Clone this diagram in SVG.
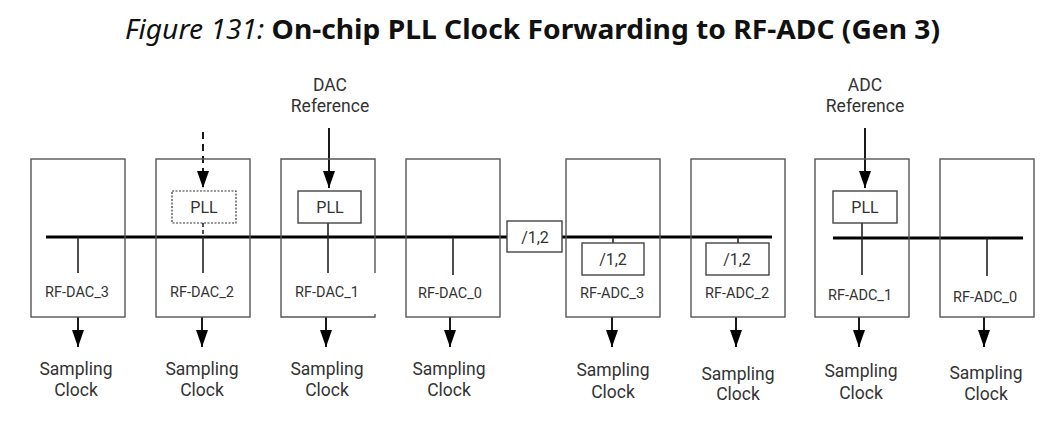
<svg xmlns="http://www.w3.org/2000/svg" width="1061" height="426" viewBox="0 0 1061 426">
<defs>
<style>
.box{fill:none;stroke:#555;stroke-width:1.4}
.sbox{fill:#fff;stroke:#444;stroke-width:1.4}
.bus{stroke:#000;stroke-width:3;fill:none}
.tap{stroke:#222;stroke-width:1.6;fill:none}
.arr{stroke:#000;stroke-width:1.8}
.lbl{font-family:Roboto,"Liberation Sans",sans-serif;font-size:14.5px;fill:#333;text-anchor:middle}
.big{font-family:Roboto,"Liberation Sans",sans-serif;font-size:17.5px;fill:#333;text-anchor:middle}
.blk{font-family:Roboto,"Liberation Sans",sans-serif;font-size:16px;fill:#333;text-anchor:middle}
.title{font-family:"Noto Sans","Open Sans",sans-serif;font-size:27px;fill:#111}
</style>
<marker id="ah2" viewBox="0 0 17 12" refX="17" refY="6" markerWidth="17" markerHeight="12" markerUnits="userSpaceOnUse" orient="auto">
<path d="M0,0 L17,6 L0,12 Z" fill="#000"/>
</marker>
</defs>
<rect width="1061" height="426" fill="#fff"/>
<text class="title" x="125" y="39" textLength="815" lengthAdjust="spacingAndGlyphs"><tspan font-style="italic" font-weight="normal">Figure 131: </tspan><tspan font-weight="bold">On-chip PLL Clock Forwarding to RF-ADC (Gen 3)</tspan></text>

<g id="connectors">
<path class="bus" d="M46,237 H507 M562,237 H772"/>
<path class="bus" d="M833,238 H1023"/>
<path class="tap" d="M78,237 V273"/>
<path class="tap" d="M203,237 V273"/>
<path class="tap" d="M203,223 V237" stroke-dasharray="4,3"/>
<path class="tap" d="M328,223 V273"/>
<path class="tap" d="M453,237 V275"/>
<path class="tap" d="M613,237 V243"/>
<path class="tap" d="M738,237 V243"/>
<path class="tap" d="M862,223 V275"/>
<path class="tap" d="M987,238 V276"/>
<line class="arr" x1="203" y1="132" x2="203" y2="188" stroke-dasharray="7,5" marker-end="url(#ah2)"/>
<line class="arr" x1="329" y1="128" x2="329" y2="188" marker-end="url(#ah2)"/>
<line class="arr" x1="865" y1="128" x2="865" y2="188" marker-end="url(#ah2)"/>
<line class="arr" x1="78" y1="317" x2="78" y2="347" marker-end="url(#ah2)"/>
<line class="arr" x1="202" y1="317" x2="202" y2="347" marker-end="url(#ah2)"/>
<line class="arr" x1="326" y1="317" x2="326" y2="347" marker-end="url(#ah2)"/>
<line class="arr" x1="450" y1="317" x2="450" y2="347" marker-end="url(#ah2)"/>
<line class="arr" x1="612" y1="317" x2="612" y2="347" marker-end="url(#ah2)"/>
<line class="arr" x1="736" y1="317" x2="736" y2="347" marker-end="url(#ah2)"/>
<line class="arr" x1="859" y1="317" x2="859" y2="347" marker-end="url(#ah2)"/>
<line class="arr" x1="984" y1="317" x2="984" y2="347" marker-end="url(#ah2)"/>
</g>

<g id="dac-ref"><text class="big" x="330" y="91">DAC</text><text class="big" x="330" y="112">Reference</text></g>
<g id="adc-ref"><text class="big" x="865" y="91">ADC</text><text class="big" x="865" y="112">Reference</text></g>

<g id="rf-dac-3">
<rect class="box" x="31" y="159" width="94" height="158"/>
<text class="lbl" x="77" y="297">RF-DAC_3</text>
<text class="big" x="76" y="375">Sampling</text><text class="big" x="76" y="396">Clock</text>
</g>
<g id="rf-dac-2">
<rect class="box" x="156" y="159" width="94" height="158"/>
<rect x="172" y="191" width="64" height="32" fill="#fff" stroke="#333" stroke-width="1.2" stroke-dasharray="2,1.5"/>
<text class="blk" x="204" y="213">PLL</text>
<text class="lbl" x="202" y="297">RF-DAC_2</text>
<text class="big" x="202" y="375">Sampling</text><text class="big" x="202" y="396">Clock</text>
</g>
<g id="rf-dac-1">
<path class="box" d="M375,273 V159 H281 V317 H375 V314"/>
<rect class="sbox" x="298" y="191" width="63" height="32"/>
<text class="blk" x="330" y="213">PLL</text>
<text class="lbl" x="327" y="297">RF-DAC_1</text>
<text class="big" x="327" y="375">Sampling</text><text class="big" x="327" y="396">Clock</text>
</g>
<g id="rf-dac-0">
<rect class="box" x="406" y="159" width="94" height="158"/>
<text class="lbl" x="450" y="298">RF-DAC_0</text>
<text class="big" x="449" y="375">Sampling</text><text class="big" x="449" y="396">Clock</text>
</g>
<g id="div-main">
<rect class="sbox" x="507" y="221" width="55" height="31"/>
<text class="blk" x="535" y="243">/1,2</text>
</g>
<g id="rf-adc-3">
<rect class="box" x="566" y="159" width="94" height="158"/>
<rect class="sbox" x="582" y="243" width="62" height="32"/>
<text class="blk" x="613" y="265">/1,2</text>
<text class="lbl" x="612" y="298">RF-ADC_3</text>
<text class="big" x="613" y="376">Sampling</text><text class="big" x="613" y="398">Clock</text>
</g>
<g id="rf-adc-2">
<rect class="box" x="691" y="159" width="94" height="158"/>
<rect class="sbox" x="706" y="243" width="63" height="32"/>
<text class="blk" x="737" y="265">/1,2</text>
<text class="lbl" x="737" y="298">RF-ADC_2</text>
<text class="big" x="738" y="380">Sampling</text><text class="big" x="738" y="400">Clock</text>
</g>
<g id="rf-adc-1">
<rect class="box" x="815" y="159" width="94" height="158"/>
<rect class="sbox" x="833" y="191" width="64" height="32"/>
<text class="blk" x="865" y="213">PLL</text>
<text class="lbl" x="860" y="300">RF-ADC_1</text>
<text class="big" x="861" y="377">Sampling</text><text class="big" x="861" y="399">Clock</text>
</g>
<g id="rf-adc-0">
<rect class="box" x="940" y="159" width="94" height="158"/>
<text class="lbl" x="985" y="302">RF-ADC_0</text>
<text class="big" x="986" y="379">Sampling</text><text class="big" x="986" y="400">Clock</text>
</g>
</svg>
